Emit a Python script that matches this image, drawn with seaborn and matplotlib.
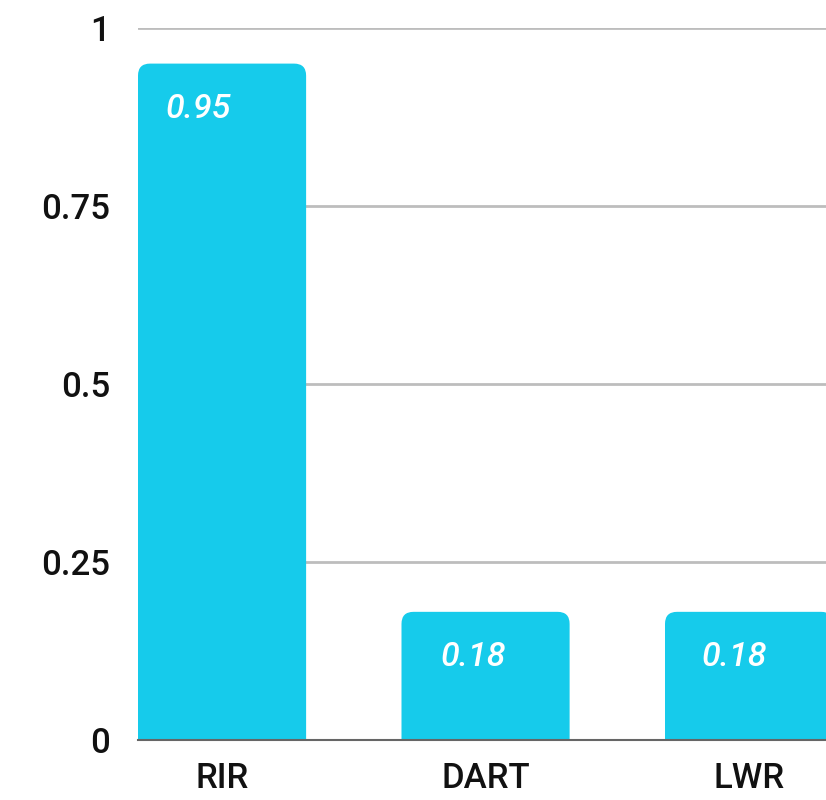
import matplotlib
matplotlib.use("Agg")
import matplotlib.pyplot as plt
import seaborn as sns
from matplotlib.patches import FancyBboxPatch

categories = ["RIR", "DART", "LWR"]
values = [0.95, 0.18, 0.18]
yticks = [0, 0.25, 0.5, 0.75, 1]
ytick_labels = ["0", "0.25", "0.5", "0.75", "1"]
value_labels = ["0.95", "0.18", "0.18"]

BAR_COLOR = "#16CBEB"
FONT = ["Roboto", "DejaVu Sans"]

sns.set_theme(style="white")
plt.rcParams["font.family"] = FONT

fig = plt.figure(figsize=(8.26, 8.0), dpi=100)
ax = fig.add_axes([138 / 826, 60 / 800, 688 / 826, 712 / 800])

sns.barplot(x=categories, y=values, color=BAR_COLOR, saturation=1,
            width=0.638, ax=ax, zorder=2)

ax.set_xlim(-0.319, 2.292)
ax.set_ylim(0, 1)

# px per data unit
px_x = 688 / (2.292 + 0.319)
px_y = 712 / 1.0
radius_px = 12
rx = radius_px / px_x
aspect = (radius_px / px_y) / rx

bars = list(ax.patches)
for i, p in enumerate(bars):
    x0 = p.get_x()
    w = p.get_width()
    h = p.get_height()
    p.remove()
    bottom = -0.05
    fb = FancyBboxPatch((x0, bottom), w, h - bottom,
                        boxstyle=f"round,pad=0,rounding_size={rx}",
                        mutation_aspect=aspect,
                        facecolor=BAR_COLOR, edgecolor="none", zorder=2,
                        clip_on=True)
    ax.add_patch(fb)

offsets_px = [28, 39, 37]
for i, (p_x, v, lab) in enumerate(zip([b.get_x() for b in bars], values, value_labels)):
    ax.annotate(lab, xy=(p_x, v), xytext=(offsets_px[i] * 0.72, -45 * 0.72),
                textcoords="offset points", ha="left", va="center",
                fontsize=24.5, fontstyle="italic", fontweight="medium",
                color="white", zorder=3)

ax.set_yticks(yticks)
ax.set_yticklabels(ytick_labels)
ax.yaxis.grid(True, color="#BDBDBD", linewidth=2, zorder=0)
ax.xaxis.grid(False)
ax.set_axisbelow(True)

for s in ["top", "right", "left"]:
    ax.spines[s].set_visible(False)
ax.spines["bottom"].set_color("#666666")
ax.spines["bottom"].set_linewidth(1.5)
ax.spines["bottom"].set_zorder(4)

ax.tick_params(axis="y", length=0, pad=20, labelsize=25, labelcolor="#111111")
ax.tick_params(axis="x", length=0, pad=16, labelsize=25, labelcolor="#111111")
for t in ax.get_xticklabels() + ax.get_yticklabels():
    t.set_fontweight("medium")
ax.set_xlabel("")
ax.set_ylabel("")

fig.savefig("out.png", dpi=100)
